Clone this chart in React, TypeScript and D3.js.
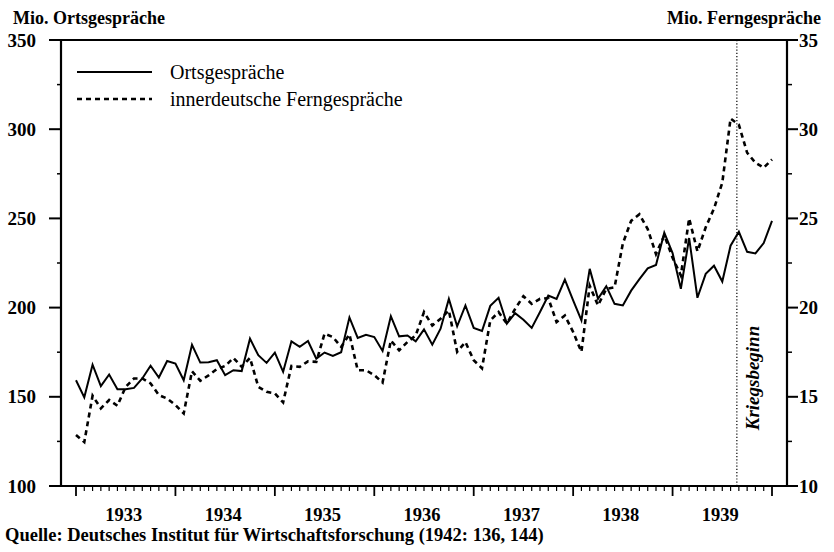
import React from "react";
import * as d3 from "d3";

const ortsgespraeche: number[] = [
  159.3, 149.7, 168, 156, 162.5, 154.3, 154.3, 155, 160.3, 167.4, 160.8, 170.1,
  168.6, 159.3, 179.2, 169.2, 169.4, 170.5, 162.1, 164.9, 164.4, 182.6, 173.3, 169,
  174.8, 164, 181.1, 178, 181.3, 171.4, 174.8, 172.9, 175, 194.5, 183, 184.8,
  183.5, 175.7, 195.2, 183.9, 184.4, 181.1, 187.8, 179.2, 188.2, 204.9, 189.5, 201.2,
  188.6, 186.9, 201, 205.5, 191, 196.9, 193.2, 188.6, 197.5, 206.8, 204.9, 215.7,
  204, 192.8, 221.7, 204.9, 212, 202.1, 201.2, 209.5, 216, 222, 223.9, 242,
  230.6, 210.5, 239, 205.5, 218.9, 223.5, 214.6, 234.7, 242.5, 231.3, 230.4, 236.2,
  248.6,
];

const ferngespraeche: number[] = [
  12.86, 12.46, 15.06, 14.35, 14.82, 14.5, 15.56, 16.03, 16.03, 15.75, 15.1, 14.9,
  14.54, 14.07, 16.43, 15.9, 16.2, 16.55, 16.73, 17.18, 16.68, 17.18, 15.56, 15.28,
  15.19, 14.69, 16.73, 16.68, 16.99, 16.96, 18.54, 18.35, 17.8, 18.5, 16.49, 16.49,
  16.21, 15.8, 18.16, 17.61, 18.07, 18.44, 19.75, 19.0, 19.38, 19.84, 17.52, 18.07,
  17.05, 16.6, 19.28, 19.75, 19.1, 19.93, 20.64, 20.21, 20.49, 20.53, 19.19, 19.56,
  18.63, 17.52, 21.23, 20.12, 21.05, 21.14, 23.6, 24.86, 25.23, 24.4, 23.0, 24.05,
  22.8, 21.8, 25.0, 23.15, 24.5, 25.55, 27.0, 30.6, 30.25, 28.68, 28.12, 27.84,
  28.3,
];

const years: number[] = [1933, 1934, 1935, 1936, 1937, 1938, 1939];
const leftTicks: number[] = [100, 150, 200, 250, 300, 350];
const rightTicks: number[] = [10, 15, 20, 25, 30, 35];
const warStartMonth = 80; // September 1939 (months since Jan 1933)

const FONT = '"Liberation Serif", "Times New Roman", serif';

export default function App() {
  const W = 834;
  const H = 552;
  const left = 61;
  const right = 787;
  const top = 40;
  const bottom = 486;

  const x = d3.scaleLinear().domain([0, 84]).range([76, 772]);
  const yL = d3.scaleLinear().domain([100, 350]).range([bottom, top]);
  const yR = d3.scaleLinear().domain([10, 35]).range([bottom, top]);

  const lineL = d3
    .line<number>()
    .x((_, i) => x(i))
    .y((d) => yL(d));
  const lineR = d3
    .line<number>()
    .x((_, i) => x(i))
    .y((d) => yR(d));

  const months = d3.range(0, 85);
  const leftMinor = d3.range(125, 350, 50);
  const rightMinor = d3.range(12.5, 35, 5);

  return (
    <svg
      width={W}
      height={H}
      style={{ position: "absolute", left: 0, top: 0, background: "#fff" }}
      fontFamily={FONT}
    >
      <rect x={0} y={0} width={W} height={H} fill="#fff" />
      {/* titles */}
      <text x={13} y={24} fontSize={18} fontWeight="bold">
        Mio. Ortsgespräche
      </text>
      <text x={821} y={24} fontSize={18} fontWeight="bold" textAnchor="end">
        Mio. Ferngespräche
      </text>

      {/* frame */}
      <line x1={left} x2={right} y1={top} y2={top} stroke="#000" strokeWidth={1.8} />
      <line x1={left} x2={left} y1={top} y2={bottom} stroke="#000" strokeWidth={2.2} />
      <line x1={right} x2={right} y1={top} y2={bottom} stroke="#000" strokeWidth={2.2} />
      <line x1={left} x2={right} y1={bottom} y2={bottom} stroke="#000" strokeWidth={2.2} />

      {/* left axis */}
      {leftTicks.map((t) => (
        <g key={"l" + t}>
          <line x1={left - 12} x2={left} y1={yL(t)} y2={yL(t)} stroke="#000" strokeWidth={2} />
          <text x={36} y={yL(t) + 6.5} fontSize={19} fontWeight="bold" textAnchor="end">
            {t}
          </text>
        </g>
      ))}
      {leftMinor.map((t) => (
        <line key={"lm" + t} x1={left - 4} x2={left} y1={yL(t)} y2={yL(t)} stroke="#000" strokeWidth={1.5} />
      ))}

      {/* right axis */}
      {rightTicks.map((t) => (
        <g key={"r" + t}>
          <line x1={right} x2={right + 11} y1={yR(t)} y2={yR(t)} stroke="#000" strokeWidth={2} />
          <text x={799} y={yR(t) + 6.5} fontSize={19} fontWeight="bold">
            {t}
          </text>
        </g>
      ))}
      {rightMinor.map((t) => (
        <line key={"rm" + t} x1={right} x2={right + 5} y1={yR(t)} y2={yR(t)} stroke="#000" strokeWidth={1.5} />
      ))}

      {/* x axis ticks */}
      {months.map((m) => (
        <line
          key={"m" + m}
          x1={x(m)}
          x2={x(m)}
          y1={bottom}
          y2={bottom + (m % 12 === 0 ? 10 : 5)}
          stroke="#000"
          strokeWidth={m % 12 === 0 ? 1.8 : 1.2}
        />
      ))}
      {years.map((yv, i) => (
        <text
          key={"y" + yv}
          x={(x(i * 12) + x(i * 12 + 12)) / 2 - 2}
          y={521}
          fontSize={18.5}
          fontWeight="bold"
          textAnchor="middle"
        >
          {yv}
        </text>
      ))}

      {/* war start */}
      <line
        x1={x(warStartMonth) - 2}
        x2={x(warStartMonth) - 2}
        y1={top}
        y2={bottom}
        stroke="#000"
        strokeWidth={1.2}
        strokeDasharray="1.2,2"
      />
      <text
        transform={`translate(${x(warStartMonth) + 20},${378}) rotate(-90)`}
        fontSize={19}
        fontWeight="bold"
        fontStyle="italic"
        textAnchor="middle"
      >
        Kriegsbeginn
      </text>

      {/* series */}
      <path d={lineL(ortsgespraeche) ?? ""} fill="none" stroke="#000" strokeWidth={2} strokeLinejoin="miter" />
      <path
        d={lineR(ferngespraeche) ?? ""}
        fill="none"
        stroke="#000"
        strokeWidth={2.6}
        strokeDasharray="5,4"
      />

      {/* legend */}
      <line x1={77} x2={152} y1={72} y2={72} stroke="#000" strokeWidth={2} />
      <text x={170} y={78.5} fontSize={20}>
        Ortsgespräche
      </text>
      <line x1={77} x2={152} y1={99} y2={99} stroke="#000" strokeWidth={2.6} strokeDasharray="5,4" />
      <text x={170} y={105.5} fontSize={20}>
        innerdeutsche Ferngespräche
      </text>

      {/* source */}
      <text x={5} y={541} fontSize={18.5} fontWeight="bold">
        Quelle: Deutsches Institut für Wirtschaftsforschung (1942: 136, 144)
      </text>
    </svg>
  );
}
